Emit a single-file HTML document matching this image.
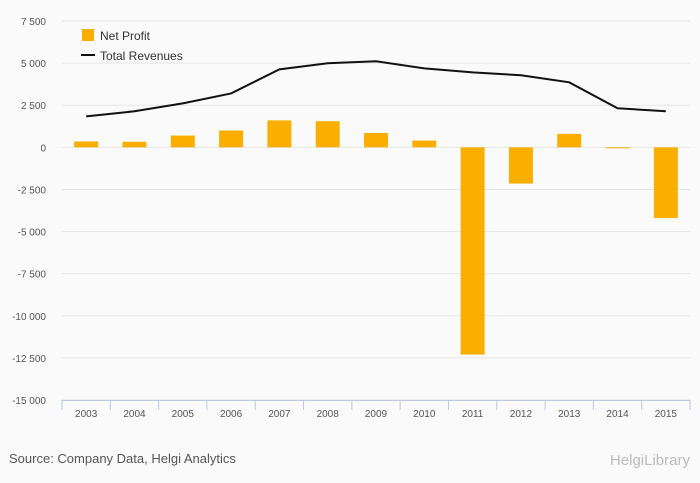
<!DOCTYPE html>
<html><head><meta charset="utf-8"><style>
html,body{margin:0;padding:0;background:#fafafa;}
svg{display:block;font-family:"Liberation Sans",sans-serif;}
</style></head><body>
<svg id="chart" width="700" height="483">
<rect x="0" y="0" width="700" height="483" fill="#fafafa"/>
<g id="grid"></g>
<g id="yaxis"></g>
<g id="xaxis"></g>
<g id="bars"></g>
<g id="line"></g>
<g>
<g><rect x="82" y="29" width="12" height="12" fill="#f9ae00"/><text x="100" y="40" font-size="12" fill="#333">Net Profit</text></g>
<g><line x1="81" y1="55" x2="95" y2="55" stroke="#111" stroke-width="2"/><text x="100" y="60" font-size="12" fill="#333">Total Revenues</text></g>
</g>
<text x="9" y="463" font-size="13" fill="#555">Source: Company Data, Helgi Analytics</text>
<text x="690" y="465" font-size="15" fill="#bbb" text-anchor="end">HelgiLibrary</text>
</svg>
<script>
const categories=["2003","2004","2005","2006","2007","2008","2009","2010","2011","2012","2013","2014","2015"];
const netProfit=[350,330,700,1000,1600,1550,850,400,-12300,-2150,800,-50,-4200];
const totalRevenues=[1840,2140,2610,3200,4630,4990,5110,4690,4450,4280,3860,2320,2140];
const yTicks=[7500,5000,2500,0,-2500,-5000,-7500,-10000,-12500,-15000];
const yTickLabels=["7 500","5 000","2 500","0","-2 500","-5 000","-7 500","-10 000","-12 500","-15 000"];
const NS="http://www.w3.org/2000/svg";
const L=62,R=690,T=21,B=400,yMax=7500,yMin=-15000;
function y(v){return T+(yMax-v)/(yMax-yMin)*(B-T);}
const bw=(R-L)/categories.length;
function xc(i){return L+bw*(i+0.5);}
function mk(tag,attrs,parent){const e=document.createElementNS(NS,tag);for(const k in attrs)e.setAttribute(k,attrs[k]);parent.appendChild(e);return e;}
const grid=document.getElementById('grid'),ya=document.getElementById('yaxis'),xa=document.getElementById('xaxis');
yTicks.forEach((t,i)=>{
 const g=mk('line',{x1:L,x2:R,y1:y(t),y2:y(t),stroke:'#e6e6e6','stroke-width':1},grid);
 
 
 const tx=mk('text',{x:46,y:y(t)+4,'font-size':10,fill:'#555','text-anchor':'end'},ya);
 tx.textContent=yTickLabels[i];
 
 
});
const ax=mk('line',{x1:L,x2:R,y1:B+0.5,y2:B+0.5,stroke:'#c0c8e0','stroke-width':1},xa);


const t0=mk('line',{x1:L,x2:L,y1:B,y2:B+10,stroke:'#c0c8e0'},xa);


categories.forEach((c,i)=>{
 const tk=mk('line',{x1:L+bw*(i+1),x2:L+bw*(i+1),y1:B,y2:B+10,stroke:'#c0c8e0'},xa);
 
 
 const tx=mk('text',{x:xc(i),y:B+17,'font-size':10,fill:'#555','text-anchor':'middle'},xa);
 tx.textContent=c;
 
 
});
const bars=document.getElementById('bars');
netProfit.forEach((v,i)=>{
 const y0=y(0),y1=y(v);
 const r=mk('rect',{x:xc(i)-12,y:Math.min(y0,y1),width:24,height:Math.max(1,Math.abs(y1-y0)),fill:'#f9ae00'},bars);
 
 
});
const pl=mk('polyline',{points:totalRevenues.map((v,i)=>xc(i)+','+y(v)).join(' '),fill:'none',stroke:'#111','stroke-width':2},document.getElementById('line'));


</script>
</body></html>
